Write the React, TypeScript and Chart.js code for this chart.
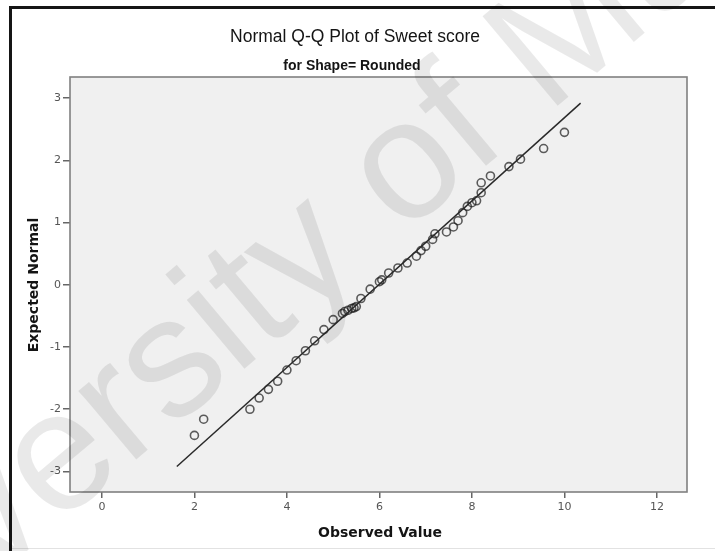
import { useEffect, useRef } from "react";
import { Chart, registerables } from "chart.js";

Chart.register(...registerables);

// Observed sweet scores and their expected normal quantiles
const observed = [
  2.0, 2.2, 3.2, 3.4, 3.6, 3.8, 4.0, 4.2, 4.4, 4.6, 4.8, 5.0, 5.2, 5.25, 5.32, 5.4, 5.45, 5.5,
  5.6, 5.8, 6.0, 6.05, 6.2, 6.4, 6.6, 6.8, 6.9, 7.0, 7.15, 7.2, 7.45, 7.6, 7.7, 7.8, 7.9, 8.0,
  8.1, 8.2, 8.2, 8.4, 8.8, 9.05, 9.55, 10.0,
];
const expected = [
  -2.42, -2.16, -2.0, -1.82, -1.68, -1.55, -1.37, -1.22, -1.06, -0.9, -0.72, -0.56, -0.46, -0.43,
  -0.41, -0.38, -0.37, -0.35, -0.22, -0.07, 0.05, 0.08, 0.19, 0.27, 0.35, 0.46, 0.55, 0.62, 0.73,
  0.82, 0.85, 0.93, 1.03, 1.16, 1.26, 1.32, 1.35, 1.48, 1.64, 1.75, 1.9, 2.02, 2.19, 2.45,
];

// Reference line end points
const lineObserved = [1.62, 10.35];
const lineExpected = [-2.92, 2.92];

const xTicks = [0, 2, 4, 6, 8, 10, 12];
const yTicks = [-3, -2, -1, 0, 1, 2, 3];

const titleText = "Normal Q-Q Plot of Sweet score";
const subtitleText = "for Shape= Rounded";
const xTitle = "Observed Value";
const yTitle = "Expected Normal";
const watermarkText = "University of Malaya";

export default function App() {
  const canvasRef = useRef<HTMLCanvasElement>(null);

  useEffect(() => {
    const canvas = canvasRef.current;
    if (!canvas) return;

    const decor = {
      id: "decor",
      beforeDraw(chart: any) {
        const { ctx, chartArea: a, width, height } = chart;
        ctx.save();
        ctx.fillStyle = "#ffffff";
        ctx.fillRect(0, 0, width, height);
        // dark frame on top and left
        ctx.fillStyle = "#151515";
        ctx.fillRect(9, 6, width - 9, 3);
        ctx.fillRect(9, 6, 3, height - 6);
        ctx.fillStyle = "#e2e2e2";
        ctx.fillRect(12, 548, width - 12, 1);
        // plot panel
        ctx.fillStyle = "#f0f0f0";
        ctx.fillRect(a.left, a.top, a.right - a.left, a.bottom - a.top);
        ctx.restore();
      },
      beforeDatasetsDraw(chart: any) {
        const { ctx, chartArea: a } = chart;
        ctx.save();
        ctx.strokeStyle = "#808080";
        ctx.lineWidth = 1.6;
        ctx.strokeRect(a.left, a.top, a.right - a.left, a.bottom - a.top);
        ctx.restore();
      },
      afterDraw(chart: any) {
        const { ctx } = chart;
        ctx.save();
        ctx.fillStyle = "#141414";
        ctx.textAlign = "center";
        ctx.textBaseline = "alphabetic";
        ctx.font = "17.5px 'Liberation Sans', Arial, sans-serif";
        ctx.fillText(titleText, 355, 42);
        ctx.font = "bold 14px 'Liberation Sans', Arial, sans-serif";
        ctx.fillText(subtitleText, 352, 70);

        ctx.font = "bold 14px 'DejaVu Sans', Verdana, sans-serif";
        ctx.textBaseline = "middle";
        ctx.fillText(xTitle, 380, 533);
        ctx.save();
        ctx.translate(34, 285);
        ctx.rotate(-Math.PI / 2);
        ctx.fillText(yTitle, 0, 0);
        ctx.restore();

        // faint diagonal watermark, placed by the centre of the "o" in "of"
        const size = 170;
        const ang = (40 * Math.PI) / 180;
        ctx.font = `${size}px 'Liberation Sans', Arial, sans-serif`;
        ctx.textAlign = "left";
        ctx.textBaseline = "alphabetic";
        ctx.fillStyle = "rgba(0,0,0,0.085)";
        const along = ctx.measureText("University ").width + ctx.measureText("o").width / 2;
        const up = 0.26 * size;
        const ux = Math.cos(ang), uy = -Math.sin(ang);
        const vx = -Math.sin(ang), vy = -Math.cos(ang);
        const cx = 410, cy = 172;
        const ox = cx - ux * along - vx * up;
        const oy = cy - uy * along - vy * up;
        ctx.translate(ox, oy);
        ctx.rotate(-ang);
        ctx.fillText(watermarkText, 0, 0);
        ctx.restore();
      },
    };

    const tickFont = { family: "'DejaVu Sans', Verdana, sans-serif", size: 11 };

    const chart = new Chart(canvas, {
      type: "scatter",
      data: {
        datasets: [
          {
            type: "line",
            data: lineObserved.map((x, i) => ({ x, y: lineExpected[i] })),
            borderColor: "#2a2a2a",
            borderWidth: 1.5,
            pointRadius: 0,
            fill: false,
          },
          {
            type: "scatter",
            data: observed.map((x, i) => ({ x, y: expected[i] })),
            pointStyle: "circle",
            pointRadius: 4,
            borderWidth: 1.6,
            borderColor: "rgba(25,25,25,0.7)",
            backgroundColor: "rgba(0,0,0,0)",
          },
        ],
      } as any,
      options: {
        responsive: false,
        animation: false,
        events: [],
        layout: { padding: { left: 12, top: 77, right: 28, bottom: 29 } },
        plugins: { legend: { display: false }, tooltip: { enabled: false } },
        scales: {
          x: {
            type: "linear",
            min: -0.69,
            max: 12.65,
            afterBuildTicks: (s: any) => {
              s.ticks = xTicks.map((v) => ({ value: v }));
            },
            afterFit: (s: any) => {
              s.height = 30;
            },
            grid: {
              drawOnChartArea: false,
              drawTicks: true,
              tickLength: 6,
              tickColor: "#666",
              lineWidth: 1.5,
            },
            border: { display: false },
            ticks: { font: tickFont, color: "#555", padding: 3, maxRotation: 0 },
          },
          y: {
            type: "linear",
            min: -3.33,
            max: 3.34,
            afterBuildTicks: (s: any) => {
              s.ticks = yTicks.map((v) => ({ value: v }));
            },
            afterFit: (s: any) => {
              s.width = 58;
            },
            grid: {
              drawOnChartArea: false,
              drawTicks: true,
              tickLength: 7,
              tickColor: "#666",
              lineWidth: 1.5,
            },
            border: { display: false },
            ticks: { font: tickFont, color: "#555", padding: 2 },
          },
        },
      },
      plugins: [decor],
    });

    return () => chart.destroy();
  }, []);

  return (
    <div style={{ position: "fixed", left: 0, top: 0, width: 715, height: 551 }}>
      <canvas ref={canvasRef} width={715} height={551} />
    </div>
  );
}
